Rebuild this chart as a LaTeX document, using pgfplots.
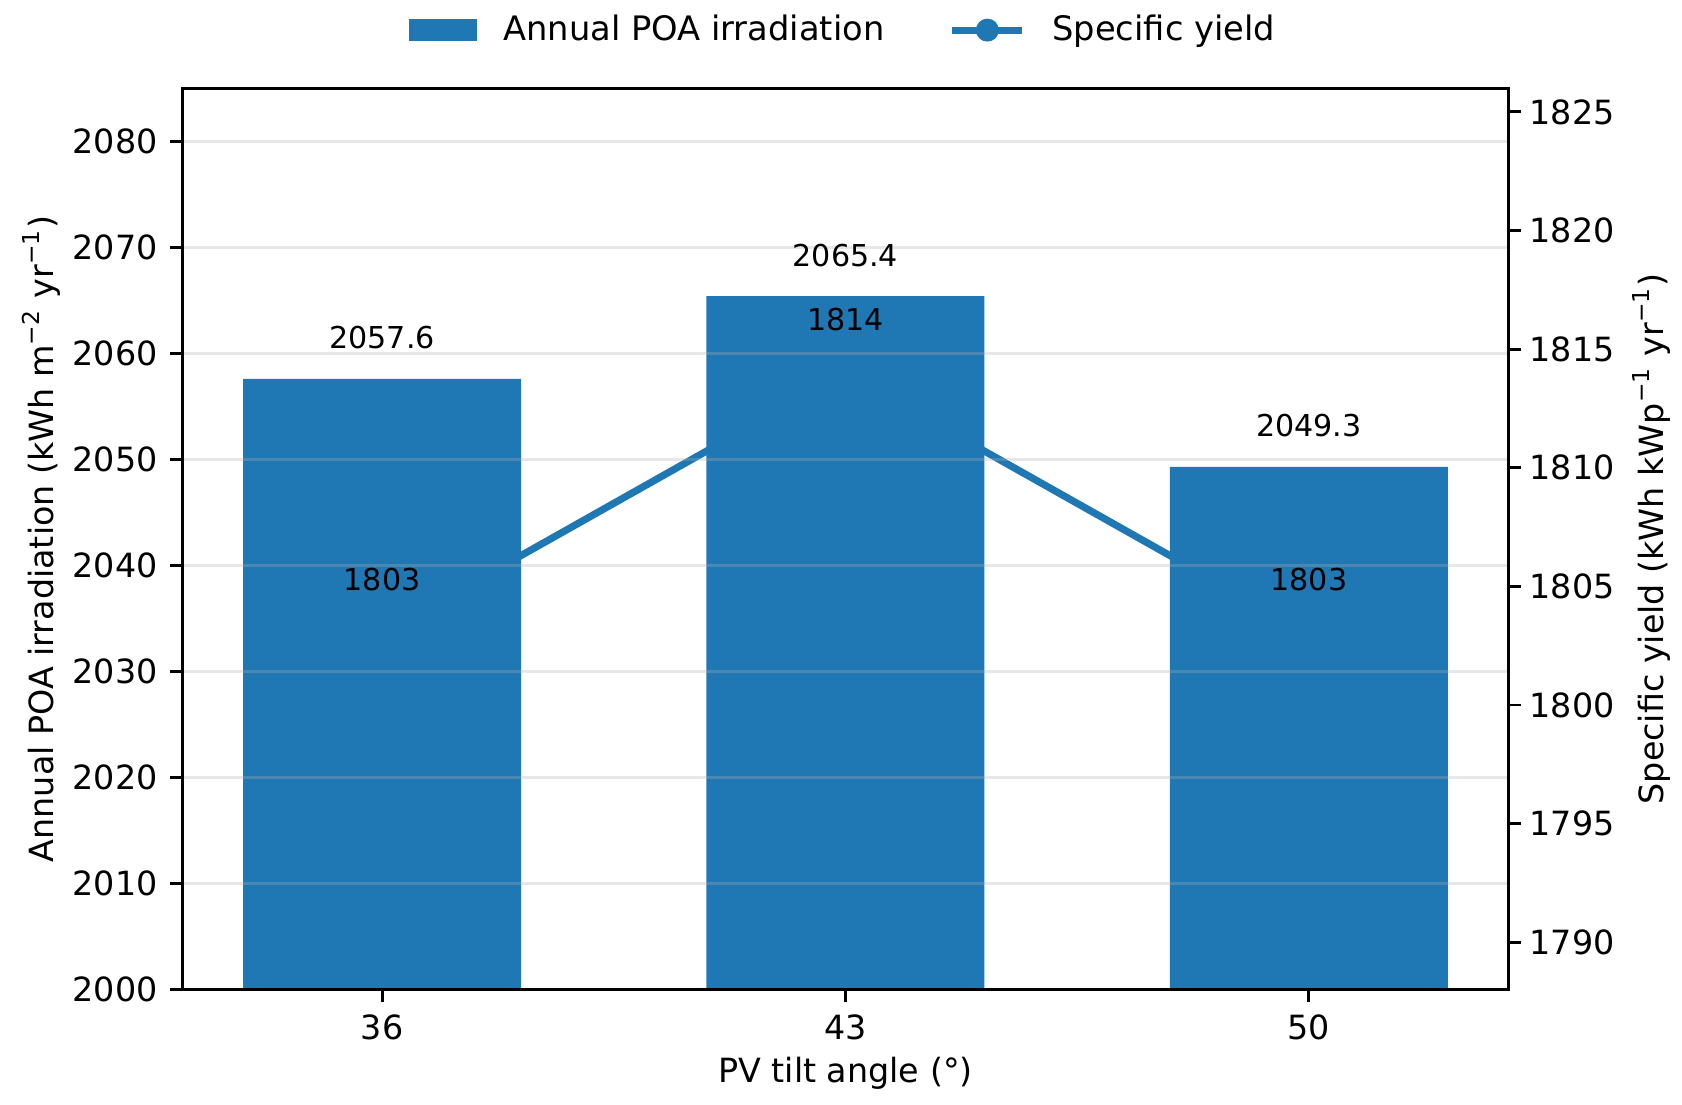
\documentclass[border=0pt]{standalone}
\usepackage{fontspec}
\setmainfont{DejaVu Sans}
\usepackage{pgfplots}
\pgfplotsset{compat=1.18}
\definecolor{c}{RGB}{31,119,180}
\definecolor{gridc}{RGB}{176,176,176}
\pgfkeys{/pgf/number format/assume math mode=true, /pgf/number format/1000 sep={}}

\begin{document}
\begin{tikzpicture}
\pgfplotsset{
  base/.style={
    scale only axis, width=369.6pt, height=251.4pt,
    xmin=-0.43, xmax=2.43,
    tick align=outside, major tick length=3.5pt,
    every tick/.style={black, line width=0.8pt},
    axis line style={line width=0.8pt},
    ticklabel style={font=\fontsize{9.3}{11}\selectfont},
    /pgf/number format/assume math mode=true,
    /pgf/number format/1000 sep={},
  }
}
% specific yield line (drawn first, behind the bars)
\begin{axis}[base,
  axis x line=none, axis y line*=right,
  ymin=1788, ymax=1826, ytick={1790,1795,...,1825},
  yticklabel style={anchor=west, xshift=-1pt},
  ylabel={Specific yield (kWh kWp\textsuperscript{−1} yr\textsuperscript{−1})},
  every axis y label/.style={at={(axis description cs:1.108,0.5)}, rotate=90, anchor=center, font=\fontsize{9.3}{11}\selectfont},
]
\addplot[c, line width=2pt, mark=*, mark size=3pt] coordinates {(0,1803) (1,1814) (2,1803)};
\end{axis}
% irradiation bars
\begin{axis}[base, name=b,
  axis on top,
  ymin=2000, ymax=2085, ytick={2000,2010,...,2080}, ytick pos=left,
  xtick={0,1,2}, xticklabels={36,43,50}, xtick pos=bottom,
  ymajorgrids, grid style={gridc, opacity=0.3, line width=0.8pt},
  ylabel={Annual POA irradiation (kWh m\textsuperscript{−2} yr\textsuperscript{−1})},
  every axis y label/.style={at={(axis description cs:-0.107,0.5)}, rotate=90, anchor=center, font=\fontsize{9.3}{11}\selectfont},
  xlabel={PV tilt angle (°)},
  every axis x label/.style={at={(axis description cs:0.5,-0.093)}, anchor=center, font=\fontsize{9.3}{11}\selectfont},
  legend style={at={(0.5,1)}, anchor=center, yshift=16.2pt, draw=none, fill=none,
    legend columns=2, font=\fontsize{9.4}{11}\selectfont,
    /tikz/every odd column/.append style={column sep=5.4pt},
    /tikz/every even column/.append style={column sep=16pt}},
]
\addplot[ybar, bar width=0.6, fill=c, draw=none,
  legend image code/.code={\fill[c] (0pt,-3pt) rectangle (19pt,3pt);},
  nodes near coords={\pgfmathprintnumber[fixed,fixed zerofill,precision=1]{\pgfplotspointmeta}},
  nodes near coords style={anchor=center, yshift=11.4pt, text=black, font=\fontsize{8.4}{10}\selectfont},
] coordinates {(0,2057.6) (1,2065.4) (2,2049.3)};
\addlegendentry{Annual POA irradiation}
\addlegendimage{legend image code/.code={\draw[c, line width=2pt] (0pt,0pt) -- (19.5pt,0pt); \fill[c] (9.75pt,0pt) circle (3pt);}}
\addlegendentry{Specific yield}
\end{axis}
% labels of the line, on top
\begin{axis}[base, hide axis, ymin=1788, ymax=1826]
\addplot[draw=none, mark=none,
  nodes near coords={\pgfmathprintnumber[fixed,precision=0]{\pgfplotspointmeta}},
  nodes near coords style={anchor=center, yshift=15pt, text=black, font=\fontsize{8.4}{10}\selectfont},
] coordinates {(0,1803) (1,1814) (2,1803)};
\end{axis}
\path (-51pt,-32.1pt) rectangle (417pt,276pt);
\end{tikzpicture}
\end{document}
